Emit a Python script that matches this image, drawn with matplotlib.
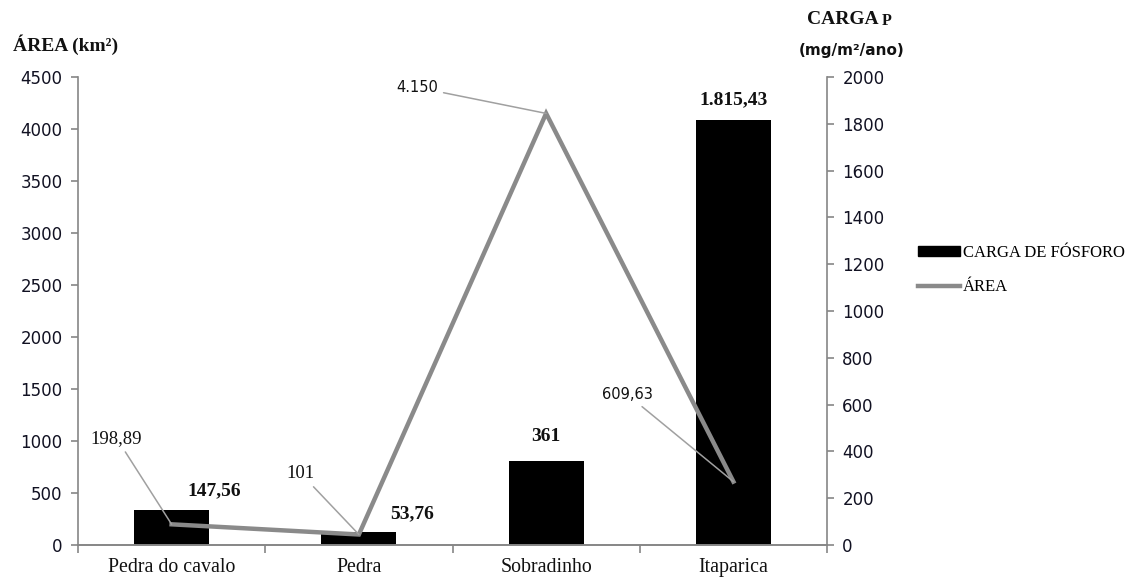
import matplotlib.pyplot as plt
from matplotlib.patches import Patch
from matplotlib.lines import Line2D

# reservoirs and values
reservatorios = ['Pedra do cavalo', 'Pedra', 'Sobradinho', 'Itaparica']
area_km2 = [198.89, 101, 4150, 609.63]
carga_p = [147.56, 53.76, 361, 1815.43]

SERIF = 'Liberation Serif'
SANS = 'DejaVu Sans'
GRID = '#868686'


def fmt_br(v):
    # 1,815.43 -> 1.815,43 and drop ",00"
    s = f"{v:,.2f}".replace(',', '#').replace('.', ',').replace('#', '.')
    if s.endswith(',00'):
        s = s[:-3]
    return s


fig = plt.figure(figsize=(11.36, 5.85), dpi=100)
ax = fig.add_axes([78 / 1136, 40 / 585, (827 - 78) / 1136, (545 - 77) / 585])
ax2 = ax.twinx()

x = list(range(len(reservatorios)))

# bars: phosphorus load, right axis
ax2.bar(x, carga_p, width=0.4, color='black', zorder=2)
ax2.set_ylim(0, 2000)
ax2.set_yticks(range(0, 2001, 200))

# line: area, left axis (drawn above bars)
ax.set_zorder(ax2.get_zorder() + 1)
ax.patch.set_visible(False)
ax.plot(x, area_km2, color='#8a8a8a', lw=3.2, solid_joinstyle='miter', zorder=3)
ax.set_ylim(0, 4500)
ax.set_yticks(range(0, 4501, 500))
ax.set_xlim(-0.5, 3.5)

# axis styling
for a in (ax, ax2):
    a.spines['top'].set_visible(False)
    for side in ('left', 'right', 'bottom'):
        a.spines[side].set_color(GRID)
        a.spines[side].set_linewidth(1.2)
    a.tick_params(axis='y', colors=GRID, length=5, width=1.2, labelsize=12,
                  labelcolor='#111122', pad=6)
    for lab in a.get_yticklabels():
        lab.set_family(SANS)

ax.spines['right'].set_visible(False)
ax2.spines['left'].set_visible(False)

ax.set_xticks([-0.5, 0.5, 1.5, 2.5, 3.5])
ax.set_xticklabels([])
ax.tick_params(axis='x', colors=GRID, length=6, width=1.2)
for xi, name in zip(x, reservatorios):
    ax.text(xi, -0.028, name, transform=ax.get_xaxis_transform(), ha='center', va='top',
            family=SERIF, fontsize=14.3, color='#111111')

# bar value labels
bar_offsets = [(43, 20), (53, 19), (0, 24), (0, 20)]
for xi, v, off in zip(x, carga_p, bar_offsets):
    ax2.annotate(fmt_br(v), (xi, v), xytext=off, textcoords='offset pixels',
                 ha='center', va='center', family=SERIF, fontweight='bold',
                 fontsize=14, color='#111111')

# area labels with leader lines
area_offsets = [(-55, 86), (-58, 61), (-129, 26), (-106, 87)]
area_fonts = [(SERIF, 13.5), (SERIF, 13.5), (SANS, 10.5), (SANS, 10.5)]
for xi, v, off, (fam, fs) in zip(x, area_km2, area_offsets, area_fonts):
    ax.annotate(fmt_br(v), (xi, v), xytext=off, textcoords='offset pixels',
                ha='center', va='center', family=fam, fontsize=fs, color='#111111',
                arrowprops=dict(arrowstyle='-', color='#a0a0a0', lw=1.1,
                                shrinkA=2, shrinkB=0),
                zorder=4)

# axis titles
fig.text(13 / 1136, 1 - 45 / 585, 'ÁREA (km²)', ha='left', va='center',
         family=SERIF, fontweight='bold', fontsize=14, color='#111111')
fig.text(807 / 1136, 1 - 20 / 585, 'CARGA', ha='left', va='center',
         family=SERIF, fontweight='bold', fontsize=14, color='#111111')
fig.text(882 / 1136, 1 - 21 / 585, 'P', ha='left', va='center',
         family=SERIF, fontweight='bold', fontsize=11.5, color='#111111')
fig.text(852 / 1136, 1 - 50 / 585, '(mg/m²/ano)', ha='center', va='center',
         family=SANS, fontweight='bold', fontsize=11, color='#111111')

# legend
handles = [Patch(facecolor='black', edgecolor='black'),
           Line2D([], [], color='#8a8a8a', lw=3.2)]
fig.legend(handles, ['CARGA DE FÓSFORO', 'ÁREA'], loc='center left',
           bbox_to_anchor=(918 / 1136, 1 - 270 / 585), frameon=False,
           prop={'family': SERIF, 'size': 12}, handlelength=2.5,
           handleheight=0.55, handletextpad=0.2, labelspacing=1.1,
           borderaxespad=0, borderpad=0)

fig.savefig('out.png', dpi=100)
